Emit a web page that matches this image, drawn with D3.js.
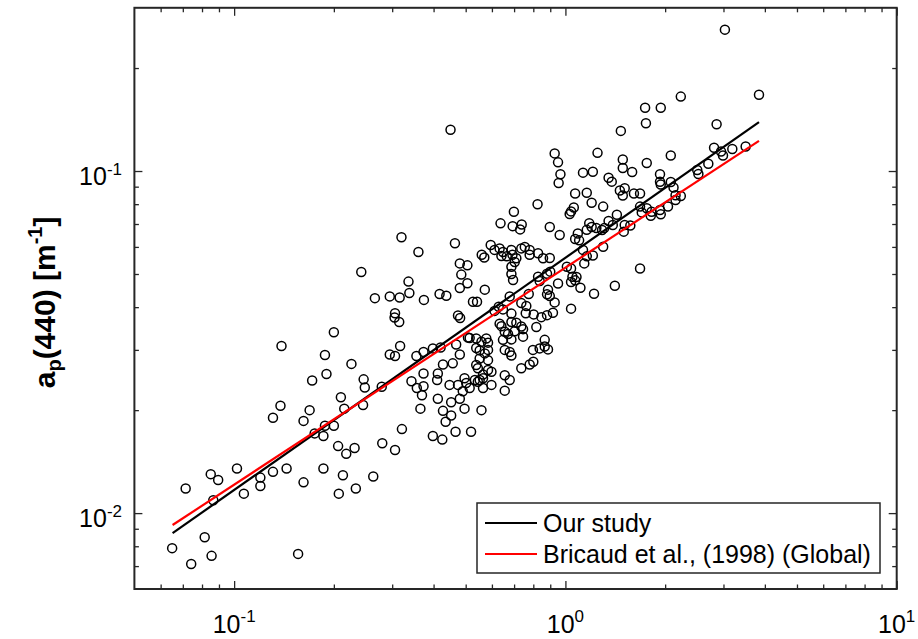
<!DOCTYPE html>
<html>
<head>
<meta charset="utf-8">
<script src="https://cdn.jsdelivr.net/npm/d3@7"></script>
<style>
  body { margin: 0; background: #fff; }
  text { font-family: "Liberation Sans", Arial, Helvetica, sans-serif; fill: #000; }
</style>
</head>
<body>
<div id="chart"></div>
<script>
// Chl (x) vs a_p(440) (y)
const samples = [
  [0.45,0.132],[0.32,0.064],[0.464,0.0615],[0.36,0.058],[0.242,0.0507],[0.48,0.0537],[0.506,0.053],[0.485,0.0498],
  [0.336,0.0475],[0.338,0.044],[0.266,0.0425],[0.295,0.043],[0.316,0.0427],[0.374,0.042],[0.417,0.0437],[0.437,0.0432],
  [0.48,0.0455],[0.506,0.047],[0.306,0.0384],[0.305,0.0373],[0.315,0.0362],[0.474,0.0378],[0.481,0.0372],[0.2,0.0338],

  [0.139,0.0308],[0.188,0.029],[0.226,0.0273],[0.172,0.0244],[0.19,0.0255],[0.246,0.0246],[0.248,0.0233],[0.279,0.0234],
  [0.295,0.0291],[0.306,0.0288],[0.317,0.0308],[0.355,0.0288],[0.373,0.0296],[0.398,0.0303],[0.42,0.0305],[0.468,0.0311],
  [0.48,0.0291],[0.457,0.0274],[0.427,0.0272],[0.373,0.0256],[0.412,0.0256],[0.41,0.0245],[0.343,0.0243],[0.356,0.0232],
  [0.373,0.0235],[0.369,0.0221],[0.365,0.0202],[0.412,0.0216],[0.447,0.0237],[0.474,0.0237],[0.496,0.0248],[0.48,0.0216],
  [0.49,0.0227],[0.496,0.0202],[0.452,0.0211],[0.427,0.0199],[0.452,0.0193],[0.435,0.0185],[0.466,0.0173],[0.398,0.0168],
  [0.425,0.0164],[0.321,0.0176],[0.28,0.016],[0.306,0.0153],[0.231,0.0155],[0.218,0.0149],[0.206,0.0157],[0.21,0.0218],
  [0.215,0.0202],[0.245,0.0207],[0.2,0.018],[0.188,0.018],[0.186,0.0168],[0.175,0.0171],[0.169,0.02],[0.162,0.0186],
  [0.138,0.0206],[0.131,0.019],[0.186,0.0135],[0.213,0.0129],[0.263,0.0128],[0.207,0.0114],[0.233,0.0118],[0.162,0.0123],
  [0.144,0.0135],[0.131,0.0132],[0.12,0.0127],[0.12,0.012],[0.107,0.0114],[0.102,0.0135],[0.085,0.013],[0.0895,0.0125],
  [0.0714,0.0118],[0.0865,0.0109],[0.0815,0.0085],[0.065,0.0079],[0.0742,0.0071],[0.0855,0.0075],[0.156,0.0076],[0.508,0.0326],

  [3.03,0.259],[3.84,0.167],[2.23,0.165],[1.74,0.153],[1.94,0.153],[1.75,0.138],[2.86,0.137],[1.47,0.131],
  [2.81,0.117],[2.99,0.111],[3.19,0.116],[3.5,0.118],[2.95,0.114],[2.08,0.111],[1.25,0.113],[0.928,0.1126],
  [0.95,0.106],[1.49,0.108],[1.49,0.102],[1.59,0.0993],[1.76,0.1055],[2.5,0.1007],[2.52,0.098],[2.7,0.105],
  [1.13,0.0989],[1.21,0.0995],[0.966,0.0978],[0.954,0.0922],[1.35,0.0956],[1.38,0.0931],[1.46,0.0877],[1.51,0.089],
  [1.49,0.0848],[1.61,0.086],[1.68,0.086],[1.93,0.0978],[1.93,0.093],[1.94,0.0913],[2.08,0.0929],[2.12,0.0895],
  [2.15,0.085],[2.23,0.0845],[2.15,0.0823],[2.04,0.0788],[1.07,0.086],[1.16,0.0864],[1.2,0.0808],[1.3,0.0787],
  [1.68,0.0787],[1.76,0.0778],[1.7,0.0757],[1.82,0.076],[1.93,0.0769],[1.94,0.0747],[1.81,0.074],[0.824,0.08],
  [0.699,0.076],[1.04,0.0762],[1.03,0.0749],[1.06,0.0782],[0.637,0.0703],[0.693,0.069],[0.73,0.0675],[0.738,0.0698],
  [0.897,0.0686],[0.961,0.065],[1.18,0.0704],[1.2,0.0686],[1.16,0.0673],[1.35,0.0714],[1.43,0.0745],[1.39,0.0695],
  [1.51,0.0695],[1.57,0.0693],[1.5,0.0665],[1.09,0.0657],[1.07,0.0633],[1.1,0.0627],[1.24,0.0681],[1.29,0.0672],
  [1.31,0.0681],[1.3,0.0601],[1.68,0.0519],[1.41,0.0462],[1.22,0.0438],[0.595,0.0608],[0.611,0.0588],[0.633,0.0594],
  [0.648,0.058],[0.641,0.0564],[0.665,0.0563],[0.687,0.0588],[0.692,0.0569],[0.711,0.0556],[0.736,0.0594],[0.754,0.06],
  [0.78,0.0588],[0.78,0.0569],[0.827,0.0575],[0.856,0.0556],[0.897,0.0557],[0.559,0.0569],[0.569,0.0559],[0.703,0.0542],
  [0.687,0.0525],[0.687,0.05],[0.695,0.048],[0.827,0.0491],[0.88,0.0501],[0.9,0.0508],[0.836,0.0477],[0.95,0.0469],
  [1.01,0.0525],[1.04,0.0519],[1.05,0.0491],[1.08,0.049],[1.07,0.0479],[1.04,0.0474],[1.11,0.0456],[1.14,0.0537],
  [1.16,0.0563],[1.21,0.0566],[0.571,0.045],[0.526,0.0415],[0.541,0.0415],[0.886,0.045],[0.88,0.0436],[0.897,0.0431],
  [0.775,0.0437],[0.679,0.043],[1.13,0.0588],

  [0.611,0.039],[0.629,0.0401],[0.648,0.0394],[0.687,0.0383],[0.736,0.0411],[0.762,0.0403],[0.759,0.0384],[0.802,0.0381],
  [0.846,0.0374],[0.88,0.0379],[0.917,0.0385],[0.928,0.0413],[1.04,0.0396],[0.633,0.0358],[0.641,0.0352],[0.687,0.0362],
  [0.711,0.036],[0.736,0.0351],[0.745,0.0345],[0.817,0.035],[0.656,0.0339],[0.671,0.0334],[0.703,0.034],[0.745,0.0328],
  [0.514,0.0325],[0.538,0.0324],[0.577,0.0324],[0.558,0.0317],[0.584,0.0315],[0.648,0.0321],[0.687,0.0322],[0.866,0.0321],
  [0.866,0.0307],[0.886,0.0301],[0.836,0.0303],[0.798,0.03],[0.538,0.0304],[0.551,0.0299],[0.584,0.03],[0.571,0.0293],
  [0.656,0.03],[0.679,0.0296],[0.687,0.0289],[0.551,0.0283],[0.584,0.028],[0.538,0.0271],[0.544,0.0265],[0.584,0.0262],
  [0.598,0.0259],[0.656,0.0253],[0.679,0.0245],[0.736,0.0265],[0.78,0.0272],[0.8,0.0277],[0.564,0.0254],[0.564,0.0248],
  [0.551,0.0245],[0.502,0.024],[0.514,0.0232],[0.533,0.0245],[0.544,0.0242],[0.564,0.0232],[0.598,0.0237],[0.656,0.0228],
  [0.558,0.02],[0.519,0.0173]
];

// fitted lines (end points)
const fitChl = [0.0652, 3.84];
const ourFit = [0.00874, 0.139];
const bricaudFit = [0.00923, 0.1225];

const legendLabels = ["Our study", "Bricaud et al., (1998) (Global)"];
const lineColors = ["#000000", "#ff0000"];

const xMajor = [0.1, 1, 10];
const xMajorExp = ["-1", "0", "1"];
const yMajor = [0.01, 0.1];
const yMajorExp = ["-2", "-1"];
const xMinor = [0.06,0.07,0.08,0.09,0.2,0.3,0.4,0.5,0.6,0.7,0.8,0.9,2,3,4,5,6,7,8,9];
const yMinor = [0.007,0.008,0.009,0.02,0.03,0.04,0.05,0.06,0.07,0.08,0.09,0.2];

const W = 918, H = 639;
const plotL = 134.4, plotR = 896.7, plotT = 7.8, plotB = 589;
const axisColor = "#262626";

const svg = d3.select("#chart")
    .append("svg")
    .attr("width", W)
    .attr("height", H);

const x = d3.scaleLog().domain([0.05, 10]).range([plotL, plotR]);
const y = d3.scaleLog().domain([0.006, 0.3]).range([plotB, plotT]);

// ticks, inward on all four sides
function ticks(axisFn, pos, vals, size) {
    const g = svg.append("g")
        .attr("transform", pos)
        .call(axisFn.tickValues(vals).tickSize(size).tickSizeOuter(0).tickFormat(""));
    g.select(".domain").remove();
    g.selectAll(".tick line").attr("stroke", axisColor).attr("stroke-width", 1.3);
}
ticks(d3.axisBottom(x), `translate(0,${plotB})`, xMajor, -8);
ticks(d3.axisBottom(x), `translate(0,${plotB})`, xMinor, -4.5);
ticks(d3.axisTop(x), `translate(0,${plotT})`, xMajor, -8);
ticks(d3.axisTop(x), `translate(0,${plotT})`, xMinor, -4.5);
ticks(d3.axisLeft(y), `translate(${plotL},0)`, yMajor, -8);
ticks(d3.axisLeft(y), `translate(${plotL},0)`, yMinor, -4.5);
ticks(d3.axisRight(y), `translate(${plotR},0)`, yMajor, -8);
ticks(d3.axisRight(y), `translate(${plotR},0)`, yMinor, -4.5);

// scatter
svg.append("g")
    .selectAll("circle")
    .data(samples)
    .join("circle")
    .attr("cx", d => x(d[0]))
    .attr("cy", d => y(d[1]))
    .attr("r", 4.5)
    .attr("fill", "none")
    .attr("stroke", "#000")
    .attr("stroke-width", 1.5);

// fit lines
const line = d3.line().x(d => x(d[0])).y(d => y(d[1]));
[ourFit, bricaudFit].forEach((fit, i) => {
    svg.append("path")
        .datum(fitChl.map((c, j) => [c, fit[j]]))
        .attr("d", line)
        .attr("fill", "none")
        .attr("stroke", lineColors[i])
        .attr("stroke-width", 2.2);
});

// frame
svg.append("rect")
    .attr("x", plotL).attr("y", plotT)
    .attr("width", plotR - plotL).attr("height", plotB - plotT)
    .attr("fill", "none")
    .attr("stroke", axisColor)
    .attr("stroke-width", 2);

// tick labels
xMajor.forEach((v, i) => {
    const t = svg.append("text")
        .attr("x", x(v)).attr("y", plotB + 44)
        .attr("text-anchor", "middle")
        .attr("font-size", 25);
    t.append("tspan").text("10");
    t.append("tspan").attr("dy", -11).attr("font-size", 17).text(xMajorExp[i]);
});
yMajor.forEach((v, i) => {
    const t = svg.append("text")
        .attr("x", 122).attr("y", y(v) + 14)
        .attr("text-anchor", "end")
        .attr("font-size", 25);
    t.append("tspan").text("10");
    t.append("tspan").attr("dy", -10).attr("font-size", 17).text(yMajorExp[i]);
});

// y title
const yt = svg.append("text")
    .attr("transform", `translate(55,${(plotT + plotB) / 2 + 4}) rotate(-90)`)
    .attr("text-anchor", "middle")
    .attr("font-size", 30)
    .attr("font-weight", "bold");
yt.append("tspan").text("a");
yt.append("tspan").attr("dy", 6).attr("font-size", 20).text("p");
yt.append("tspan").attr("dy", -6).text("(440) [m");
yt.append("tspan").attr("dy", -13).attr("font-size", 20).text("-1");
yt.append("tspan").attr("dy", 13).text("]");

// legend
const lg = svg.append("g");
lg.append("rect")
    .attr("x", 477).attr("y", 503)
    .attr("width", 403).attr("height", 70)
    .attr("fill", "#fff")
    .attr("stroke", axisColor)
    .attr("stroke-width", 1.5);
legendLabels.forEach((lab, i) => {
    const cy = 523 + i * 31;
    lg.append("line")
        .attr("x1", 485).attr("x2", 537)
        .attr("y1", cy).attr("y2", cy)
        .attr("stroke", lineColors[i])
        .attr("stroke-width", 2.2);
    lg.append("text")
        .attr("x", 543).attr("y", cy + 9)
        .attr("font-size", 25)
        .text(lab);
});
</script>
</body>
</html>
